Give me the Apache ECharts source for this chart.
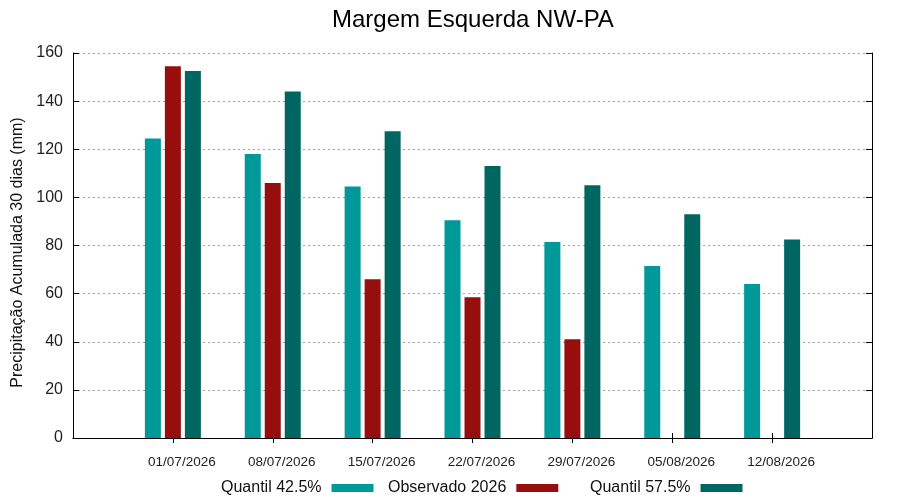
<!DOCTYPE html>
<html><head><meta charset="utf-8">
<script src="https://cdn.jsdelivr.net/npm/echarts@6/dist/echarts.min.js"></script>
<style>html,body{margin:0;padding:0;background:#fff}#c{width:900px;height:500px}</style>
</head><body><div id="c"></div>
<script>
const categories = ['01/07/2026','08/07/2026','15/07/2026','22/07/2026','29/07/2026','05/08/2026','12/08/2026'];
const quantil425 = [124.5, 118, 104.5, 90.5, 81.5, 71.5, 64];
const observado2026 = [154.5, 106, 66, 58.5, 41, null, null];
const quantil575 = [152.5, 144, 127.5, 113, 105, 93, 82.5];
const yTicks = {min: 0, max: 160, interval: 20};

const pad = arr => [null].concat(arr, [null]);
const cats = [''].concat(categories, ['']);
const last = cats.length - 1;
const font = 'Liberation Sans, Arial, sans-serif';
const tickInterval = (i) => i > 0 && i < last;

const chart = echarts.init(document.getElementById('c'), null, {renderer: 'canvas'});
const mkLegend = (name, left) => ({
  data: [name], left: left, top: 475, align: 'right', itemWidth: 42, itemHeight: 8,
  icon: 'rect', textStyle: {fontFamily: font, fontSize: 16, color: '#111', padding: [0, 5, 0, 0]},
  selectedMode: false
});
chart.setOption({
  animation: false,
  title: {text: 'Margem Esquerda NW-PA', left: 327, top: 3,
    textStyle: {fontFamily: font, fontSize: 24, fontWeight: 'normal', color: '#000'}},
  legend: [mkLegend('Quantil 42.5%', 216), mkLegend('Observado 2026', 383), mkLegend('Quantil 57.5%', 585)],
  grid: {left: 73, right: 28, top: 53, bottom: 62},
  xAxis: [
    {type: 'category', data: cats, boundaryGap: false, position: 'bottom',
      axisLine: {lineStyle: {color: '#000', width: 1}},
      axisTick: {inside: true, length: 5, interval: tickInterval, lineStyle: {color: '#000'}},
      axisLabel: {interval: 0, margin: 17, fontFamily: font, fontSize: 13.5, color: '#222', padding: [0, 0, 0, 18]},
      splitLine: {show: false}},
    {type: 'category', data: cats, boundaryGap: false, position: 'top',
      axisLine: {lineStyle: {color: '#000', width: 1}},
      axisTick: {inside: true, length: 5, interval: tickInterval, lineStyle: {color: '#000'}},
      axisLabel: {show: false}, splitLine: {show: false}}
  ],
  yAxis: [
    {type: 'value', min: yTicks.min, max: yTicks.max, interval: yTicks.interval, position: 'left',
      name: 'Precipitação Acumulada 30 dias (mm)', nameLocation: 'middle', nameGap: 43, nameRotate: 90,
      nameTextStyle: {fontFamily: font, fontSize: 16, color: '#111', padding: [0, 14, 0, 0]},
      axisLine: {show: true, lineStyle: {color: '#000', width: 1}},
      axisTick: {show: true, inside: true, length: 6, lineStyle: {color: '#000'}},
      axisLabel: {margin: 10, fontFamily: font, fontSize: 16, color: '#222'},
      splitLine: {show: true, lineStyle: {color: '#a0a0a0', type: [2, 3], width: 1}}},
    {type: 'value', min: yTicks.min, max: yTicks.max, interval: yTicks.interval, position: 'right',
      axisLine: {show: true, lineStyle: {color: '#000', width: 1}},
      axisTick: {show: true, inside: true, length: 6, lineStyle: {color: '#000'}},
      axisLabel: {show: false}, splitLine: {show: false}}
  ],
  series: [
    {name: 'Quantil 42.5%', type: 'bar', data: pad(quantil425), barWidth: 16, barGap: '25%',
      itemStyle: {color: '#009999'}},
    {name: 'Observado 2026', type: 'bar', data: pad(observado2026), barWidth: 16, barGap: '25%',
      itemStyle: {color: '#970e0e'}},
    {name: 'Quantil 57.5%', type: 'bar', data: pad(quantil575), barWidth: 16, barGap: '25%',
      itemStyle: {color: '#006662'}}
  ]
});
</script></body></html>
